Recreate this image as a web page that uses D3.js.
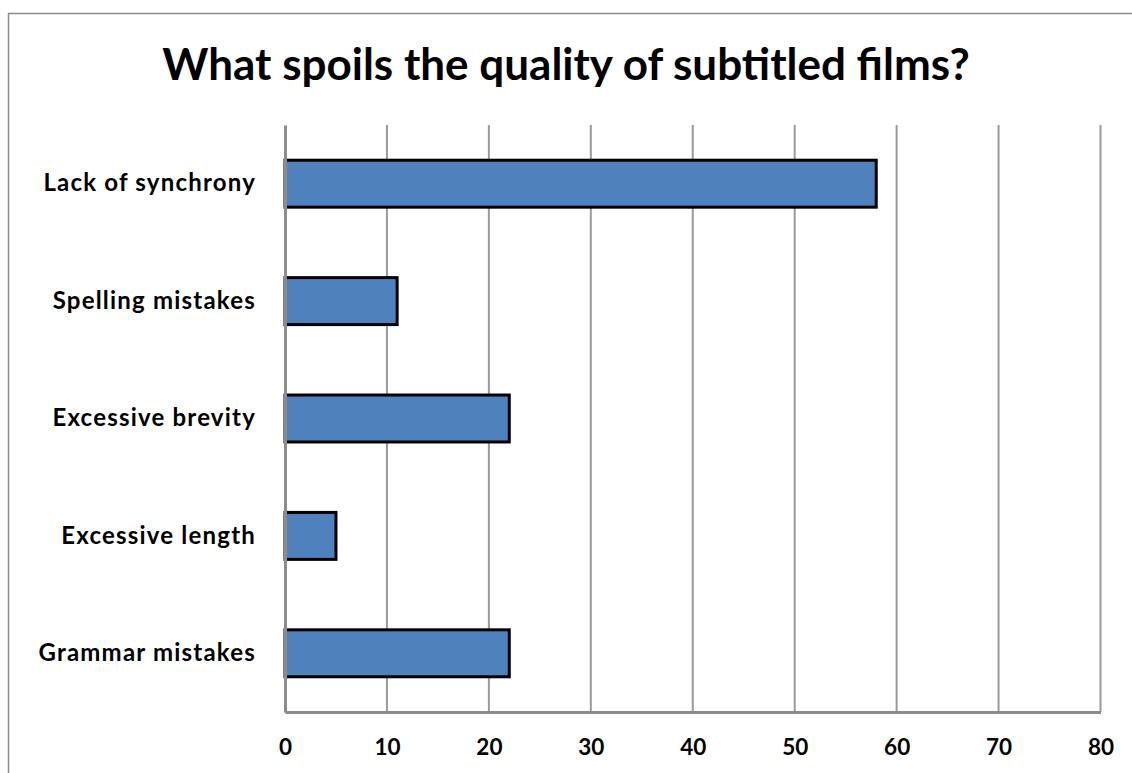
<!DOCTYPE html>
<html>
<head>
<meta charset="utf-8">
<script src="https://cdn.jsdelivr.net/npm/d3@7"></script>
<style>
  html, body { margin: 0; padding: 0; background: #fff; }
  svg { display: block; }
  text { font-family: Lato, "Open Sans", sans-serif; font-weight: bold; fill: #000; }
</style>
</head>
<body>
<svg id="chart" width="1132" height="773"></svg>
<script>
// Survey answers: what spoils the quality of subtitled films
const categories = ["Lack of synchrony", "Spelling mistakes", "Excessive brevity", "Excessive length", "Grammar mistakes"];
const values = [58, 11, 22, 5, 22];
const tickValues = [0, 10, 20, 30, 40, 50, 60, 70, 80];
const title = "What spoils the quality of subtitled films?";

const svg = d3.select("#chart");

// chart frame (runs off the right and bottom of the page)
svg.append("rect")
  .attr("x", 8.5).attr("y", 13.5)
  .attr("width", 1140).attr("height", 780)
  .attr("fill", "#fff")
  .attr("stroke", "#8c8c8c")
  .attr("stroke-width", 1.5);

const plot = { left: 285, right: 1100.5, top: 125, bottom: 712 };

const x = d3.scaleLinear().domain([0, 80]).range([plot.left, plot.right]);
const y = d3.scaleBand().domain(categories).range([plot.top, plot.bottom]).paddingInner(0.6).paddingOuter(0.3);

// vertical gridlines
svg.append("g")
  .selectAll("line")
  .data(tickValues.slice(1))
  .join("line")
  .attr("x1", d => x(d)).attr("x2", d => x(d))
  .attr("y1", plot.top).attr("y2", plot.bottom)
  .attr("stroke", "#9a9a9a")
  .attr("stroke-width", 2);

// bars
svg.append("g")
  .selectAll("rect")
  .data(categories)
  .join("rect")
  .attr("x", x(0))
  .attr("y", d => y(d))
  .attr("width", (d, i) => x(values[i]) - x(0))
  .attr("height", y.bandwidth())
  .attr("fill", "#4f81bd")
  .attr("stroke", "#000")
  .attr("stroke-width", 3);

// x axis
const xAxis = d3.axisBottom(x).tickValues(tickValues).tickSize(0).tickPadding(27);
const gx = svg.append("g").attr("transform", `translate(0,${plot.bottom})`).call(xAxis);
gx.select(".domain").attr("stroke", "#8c8c8c").attr("stroke-width", 3);
gx.selectAll("text")
  .attr("font-size", 22.5)
  .attr("font-family", "Lato, sans-serif")
  .attr("font-weight", "bold");

// y axis
const yAxis = d3.axisLeft(y).tickSize(0).tickPadding(29);
const gy = svg.append("g").attr("transform", `translate(${plot.left},0)`).call(yAxis);
gy.select(".domain").attr("stroke", "#8c8c8c").attr("stroke-width", 3);
gy.selectAll("text")
  .attr("font-size", 24)
  .attr("letter-spacing", "1.2px")
  .attr("font-family", "Lato, sans-serif")
  .attr("font-weight", "bold");

// title
svg.append("text")
  .attr("x", 566).attr("y", 80)
  .attr("text-anchor", "middle")
  .attr("font-size", 44)
  .text(title);
</script>
</body>
</html>
